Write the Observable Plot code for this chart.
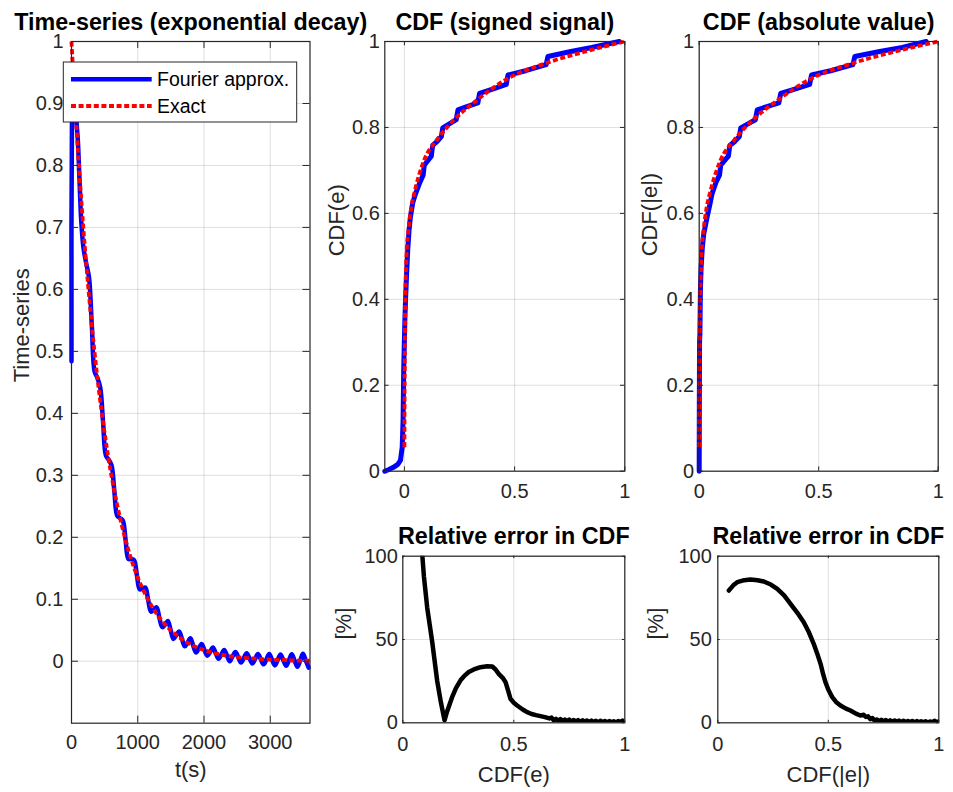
<!DOCTYPE html>
<html><head><meta charset="utf-8">
<script src="https://cdn.jsdelivr.net/npm/d3@7"></script>
<script src="https://cdn.jsdelivr.net/npm/@observablehq/plot@0.6"></script>
<style>
body{margin:0;background:#fff;}
#wrap{position:relative;width:953px;height:792px;background:#fff;font-family:"Liberation Sans",Arial,sans-serif;overflow:hidden;}
#wrap > svg{position:absolute;left:0;top:0;}
</style></head><body><div id="wrap"></div>
<script>
// ---------- data ----------
const seriesNames = ["Fourier approx.", "Exact"];
const titles = ["Time-series (exponential decay)", "CDF (signed signal)", "CDF (absolute value)", "Relative error in CDF", "Relative error in CDF"];
const xLabels = ["t(s)", "", "", "CDF(e)", "CDF(|e|)"];
const yLabels = ["Time-series", "CDF(e)", "CDF(|e|)", "[%]", "[%]"];

const tsXTicks = [0, 1000, 2000, 3000];
const tsYTicks = [0, 0.1, 0.2, 0.3, 0.4, 0.5, 0.6, 0.7, 0.8, 0.9, 1];
const cdfXTicks = [0, 0.5, 1];
const cdfYTicks = [0, 0.2, 0.4, 0.6, 0.8, 1];
const errXTicks = [0, 0.5, 1];
const errYTicks = [0, 50, 100];

// time series: [t (s), value]
const fourierTS = [
[0,0.484],[8,0.90],[25,0.95],[50,0.91],[76,0.87],[96,0.84],[121,0.776],[146,0.712],[179.5,0.668],
[222,0.642],[264.5,0.619],[307,0.541],[349.5,0.467],[392,0.457],[434.5,0.441],[477,0.385],[519.5,0.332],
[562,0.325],[604.5,0.316],[647,0.274],[689.5,0.235],[732,0.231],[774.5,0.227],[817,0.195],[859.5,0.165],
[902,0.165],[944.5,0.163],[987,0.139],[1029.5,0.116],[1072,0.117],[1114.5,0.119],[1157,0.099],[1199.5,0.080],
[1242,0.083],[1284.5,0.087],[1327,0.070],[1369.5,0.055],[1412,0.059],[1454.5,0.065],[1497,0.050],[1539.5,0.036],
[1582,0.042],[1624.5,0.048],[1667,0.036],[1709.5,0.024],[1752,0.030],[1794.5,0.037],[1837,0.025],[1879.5,0.014],
[1922,0.021],[1964.5,0.028],[2007,0.018],[2049.5,0.009],[2092,0.015],[2134.5,0.022],[2177,0.013],[2219.5,0.004],
[2262,0.011],[2304.5,0.018],[2347,0.009],[2389.5,0.000],[2432,0.008],[2474.5,0.015],[2517,0.0065],[2559.5,-0.002],
[2602,0.0055],[2644.5,0.013],[2687,0.0046],[2729.5,-0.0037],[2772,0.0039],[2814.5,0.0116],[2857,0.0033],[2899.5,-0.005],
[2942,0.0028],[2984.5,0.0116],[3027,0.0023],[3069.5,-0.0068],[3112,0.0020],[3154.5,0.0108],[3197,0.0017],[3239.5,-0.0075],
[3282,0.0014],[3324.5,0.0113],[3367,0.0012],[3409.5,-0.0089],[3452,0.0010],[3494.5,0.0119],[3537,0.0009],[3579.5,-0.0102]
];
const exactTS = [
[0,1],[25,0.951],[50,0.905],[100,0.819],[150,0.741],[200,0.670],[250,0.607],[300,0.549],[400,0.449],[500,0.368],
[600,0.301],[700,0.247],[800,0.202],[900,0.165],[1000,0.135],[1100,0.111],[1200,0.091],[1300,0.074],[1400,0.061],
[1500,0.050],[1600,0.041],[1700,0.033],[1800,0.027],[1900,0.022],[2000,0.018],[2200,0.012],[2400,0.008],[2600,0.0055],
[2800,0.004],[3000,0.0025],[3200,0.002],[3400,0.0011],[3600,0.001]
];

// CDF signed: [e, CDF]
const cdfSignedFourier = [
[-0.089,0],[-0.07,0.004],[-0.05,0.009],[-0.03,0.016],[-0.018,0.025],[-0.010,0.056],[-0.006,0.12],[-0.003,0.242],
[0.002,0.35],[0.005,0.397],[0.010,0.46],[0.015,0.514],[0.021,0.56],[0.027,0.591],[0.038,0.625],[0.05,0.645],
[0.070,0.672],[0.085,0.689],[0.090,0.712],[0.105,0.722],[0.122,0.733],[0.128,0.758],[0.15,0.768],[0.168,0.779],
[0.174,0.799],[0.20,0.807],[0.235,0.818],[0.243,0.841],[0.28,0.848],[0.333,0.857],[0.341,0.879],[0.40,0.889],
[0.462,0.900],[0.470,0.922],[0.55,0.932],[0.643,0.946],[0.651,0.965],[0.75,0.976],[0.85,0.986],[0.975,1.0]
];
const cdfExact = [
[0,0.056],[0.001,0.2],[0.003,0.36],[0.006,0.45],[0.010,0.51],[0.018,0.56],[0.03,0.61],[0.05,0.658],[0.088,0.722],
[0.147,0.771],[0.222,0.816],[0.33,0.864],[0.463,0.912],[0.645,0.950],[0.83,0.978],[1,1]
];
// CDF absolute: [|e|, CDF]
const cdfAbsFourier = [
[0,0],[0.0005,0.15],[0.0015,0.3],[0.003,0.32],[0.005,0.42],[0.008,0.475],[0.013,0.52],[0.019,0.552],[0.026,0.572],
[0.033,0.591],[0.045,0.622],[0.054,0.646],[0.070,0.672],[0.085,0.689],[0.090,0.712],[0.105,0.722],[0.122,0.733],
[0.128,0.758],[0.15,0.768],[0.168,0.779],[0.174,0.799],[0.20,0.807],[0.235,0.818],[0.243,0.841],[0.28,0.848],
[0.333,0.857],[0.341,0.879],[0.40,0.889],[0.462,0.900],[0.470,0.922],[0.55,0.932],[0.643,0.946],[0.651,0.965],
[0.75,0.976],[0.85,0.986],[0.95,1.0]
];
// relative error [CDF, %]
const relErrSigned = [
[0.083,109],[0.095,88],[0.11,69],[0.132,49],[0.155,25],[0.172,12],[0.188,1.5],[0.2,7],[0.222,15.4],[0.24,21],
[0.26,25.5],[0.28,28.5],[0.297,30.5],[0.32,32],[0.35,33.4],[0.38,34],[0.403,33.8],[0.418,32],[0.432,29.4],[0.45,27],
[0.463,24.4],[0.475,19],[0.485,14.4],[0.5,12],[0.515,10.4],[0.54,8],[0.56,6.4],[0.58,5.3],[0.60,4.6],[0.62,4.0],[0.64,3.4],
[0.66,2.6],[0.67,3.2],[0.68,1.4],[0.69,2.4],[0.70,1.2],[0.71,2.2],[0.72,0.8],[0.73,2.0],[0.74,0.9],[0.75,1.9],[0.76,0.6],
[0.77,1.7],[0.78,0.7],[0.79,1.6],[0.80,0.5],[0.81,1.5],[0.82,0.5],[0.83,1.4],[0.84,0.4],[0.85,1.3],[0.86,0.5],
[0.87,1.2],[0.88,0.3],[0.89,1.2],[0.90,0.4],[0.91,1.1],[0.92,0.3],[0.93,1.0],[0.94,0.4],[0.95,0.9],[0.96,0.2],
[0.97,1.0],[0.98,0.4],[0.99,1.3],[1.0,0.4]
];
const relErrAbs = [
[0.05,79.4],[0.07,82.5],[0.088,84.4],[0.12,85.6],[0.148,86],[0.18,85.6],[0.208,84.8],[0.24,83],[0.269,80.4],
[0.30,76.5],[0.329,71.4],[0.36,66],[0.389,60.4],[0.41,55],[0.434,47.4],[0.45,41.5],[0.465,35.4],[0.477,29],
[0.487,24.4],[0.50,20],[0.518,15.4],[0.535,12.5],[0.555,10.4],[0.58,8.5],[0.60,7.4],[0.625,5.5],[0.645,4.4],
[0.66,4.8],[0.67,3.5],[0.68,3.9],[0.69,2.2],[0.70,2.8],[0.71,1.2],[0.72,2.0],[0.73,0.8],[0.74,1.8],[0.75,0.7],
[0.76,1.7],[0.77,0.6],[0.78,1.5],[0.79,0.6],[0.80,1.4],[0.81,0.5],[0.82,1.3],[0.83,0.4],[0.84,1.2],[0.85,0.4],
[0.86,1.1],[0.87,0.3],[0.88,1.1],[0.89,0.3],[0.90,1.0],[0.91,0.4],[0.92,0.9],[0.93,0.3],[0.94,0.9],[0.95,0.2],
[0.96,0.8],[0.97,0.3],[0.98,1.2],[0.99,0.4],[1.0,0.9]
];

// ---------- drawing ----------
const W = 953, H = 792;
const ink = "#262626";
const FONT = '"Liberation Sans", Arial, sans-serif';
const fmt = d3.format("~g");
const BLUE = "#0000ff", RED = "#ff0000";

function panel(o) {
  const [l, t, r, b] = o.frame;
  const fw = r - l, fh = b - t;
  const L = o.tickLen;
  return Plot.plot({
    width: W, height: H,
    marginLeft: l, marginRight: W - r, marginTop: t, marginBottom: H - b,
    style: {background: "transparent", overflow: "visible", fontFamily: FONT, fontSize: "20px", color: ink},
    x: {domain: o.xDomain}, y: {domain: o.yDomain},
    marks: [
      Plot.gridX(o.xTicks, {stroke: ink, strokeOpacity: 0.15, strokeWidth: 1}),
      Plot.gridY(o.yTicks, {stroke: ink, strokeOpacity: 0.15, strokeWidth: 1}),
      ...o.marks,
      Plot.frame({stroke: ink, strokeWidth: 1.2}),
      Plot.tickX(o.xTicks, {x: d => d, stroke: ink, insetTop: fh - L}),
      Plot.tickX(o.xTicks, {x: d => d, stroke: ink, insetBottom: fh - L}),
      Plot.tickY(o.yTicks, {y: d => d, stroke: ink, insetRight: fw - L}),
      Plot.tickY(o.yTicks, {y: d => d, stroke: ink, insetLeft: fw - L}),
      Plot.axisX(o.xTicks, {tickSize: 0, tickPadding: o.xGap, tickFormat: fmt, label: null, fill: ink, fontSize: 20}),
      Plot.axisY(o.yTicks, {tickSize: 0, tickPadding: o.yGap, tickFormat: fmt, label: null, fill: ink, fontSize: 20}),
      Plot.text([o.title], {text: d => d, frameAnchor: "top", dy: -12, lineAnchor: "bottom", fontSize: 23.3, fontWeight: "bold", fill: "#000"}),
      o.xLabel ? Plot.text([o.xLabel], {text: d => d, frameAnchor: "bottom", dy: o.xLabelDy, lineAnchor: "middle", fontSize: 22, fill: ink}) : null,
      Plot.text([o.yLabel], {text: d => d, frameAnchor: "left", dx: o.yLabelDx, rotate: -90, lineAnchor: "middle", fontSize: 22, fill: ink})
    ]
  });
}

const px = d => d[0], py = d => d[1];
const wrap = document.getElementById("wrap");

wrap.append(panel({
  frame: [71, 41, 309.5, 722.7], xDomain: [0, 3600], yDomain: [-0.1, 1],
  xTicks: tsXTicks, yTicks: tsYTicks, tickLen: 7, xGap: 12, yGap: 8,
  title: titles[0], xLabel: xLabels[0], yLabel: yLabels[0], xLabelDy: 47, yLabelDx: -50,
  marks: [
    Plot.line(fourierTS, {x: px, y: py, stroke: BLUE, strokeWidth: 4.5, curve: "catmull-rom"}),
    Plot.line(exactTS, {x: px, y: py, stroke: RED, strokeWidth: 3.8, strokeDasharray: "5,2.6", strokeLinecap: "butt", curve: "monotone-x"})
  ]
}));

wrap.append(panel({
  frame: [384.3, 41, 624.3, 470.7], xDomain: [-0.089, 1], yDomain: [0, 1],
  xTicks: cdfXTicks, yTicks: cdfYTicks, tickLen: 4.3, xGap: 13, yGap: 5,
  title: titles[1], xLabel: xLabels[1], yLabel: yLabels[1], xLabelDy: 47, yLabelDx: -48,
  marks: [
    Plot.line(cdfSignedFourier, {x: px, y: py, stroke: BLUE, strokeWidth: 5}),
    Plot.line(cdfExact, {x: px, y: py, stroke: RED, strokeWidth: 3.8, strokeDasharray: "5,2.6", strokeLinecap: "butt", curve: "monotone-x"})
  ]
}));

wrap.append(panel({
  frame: [698.7, 41, 937.7, 470.7], xDomain: [0, 1], yDomain: [0, 1],
  xTicks: cdfXTicks, yTicks: cdfYTicks, tickLen: 4.3, xGap: 13, yGap: 5,
  title: titles[2], xLabel: xLabels[2], yLabel: yLabels[2], xLabelDy: 47, yLabelDx: -49,
  marks: [
    Plot.line(cdfAbsFourier, {x: px, y: py, stroke: BLUE, strokeWidth: 5}),
    Plot.line(cdfExact, {x: px, y: py, stroke: RED, strokeWidth: 3.8, strokeDasharray: "5,2.6", strokeLinecap: "butt", curve: "monotone-x"})
  ]
}));

wrap.append(panel({
  frame: [402.3, 555.7, 624.3, 722.3], xDomain: [0, 1], yDomain: [0, 100],
  xTicks: errXTicks, yTicks: errYTicks, tickLen: 2.5, xGap: 14, yGap: 5,
  title: titles[3], xLabel: xLabels[3], yLabel: yLabels[3], xLabelDy: 52, yLabelDx: -59,
  marks: [
    Plot.line(relErrSigned, {x: px, y: py, stroke: "#000", strokeWidth: 4.5, clip: true})
  ]
}));

wrap.append(panel({
  frame: [717.3, 555.7, 938.3, 722.3], xDomain: [0, 1], yDomain: [0, 100],
  xTicks: errXTicks, yTicks: errYTicks, tickLen: 2.5, xGap: 14, yGap: 6,
  title: titles[4], xLabel: xLabels[4], yLabel: yLabels[4], xLabelDy: 52, yLabelDx: -62,
  marks: [
    Plot.line(relErrAbs, {x: px, y: py, stroke: "#000", strokeWidth: 4.5, clip: true})
  ]
}));

// legend (top-left of time-series panel)
const legendStyles = [
  {stroke: BLUE, width: 4.5, dash: null},
  {stroke: RED, width: 3.8, dash: "5,2.6"}
];
const leg = d3.create("svg")
  .attr("width", W).attr("height", H)
  .style("position", "absolute").style("left", "0px").style("top", "0px")
  .style("font-family", FONT);
leg.append("rect").attr("x", 63.3).attr("y", 62).attr("width", 233.4).attr("height", 60)
  .attr("fill", "#fff").attr("stroke", ink).attr("stroke-width", 1);
seriesNames.forEach((name, i) => {
  const y = 79.3 + i * 26.7;
  const s = legendStyles[i];
  leg.append("line").attr("x1", 71).attr("x2", 151.7).attr("y1", y).attr("y2", y)
    .attr("stroke", s.stroke).attr("stroke-width", s.width)
    .attr("stroke-dasharray", s.dash).attr("stroke-linecap", "butt");
  leg.append("text").attr("x", 157).attr("y", y).attr("dy", "0.35em")
    .attr("font-size", 19.5).attr("fill", "#000").text(name);
});
wrap.append(leg.node());
</script></body></html>
